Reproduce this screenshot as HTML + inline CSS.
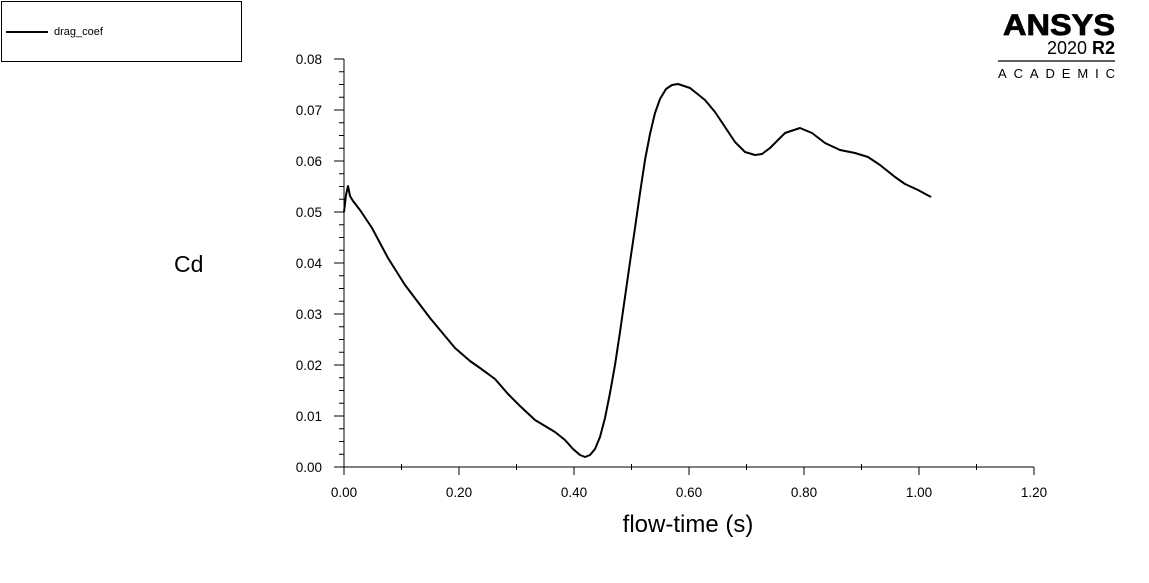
<!DOCTYPE html>
<html><head><style>
body{margin:0;background:#fff;width:1149px;height:583px;overflow:hidden}
svg{display:block}
text{font-family:"Liberation Sans",Arial,sans-serif;fill:#000}
</style></head><body>
<svg width="1149" height="583" viewBox="0 0 1149 583">
<rect x="1.5" y="1.5" width="240" height="60" fill="none" stroke="#000" stroke-width="1"/>
<line x1="6" y1="32" x2="48" y2="32" stroke="#000" stroke-width="2"/>
<text x="54" y="35" font-size="11">drag_coef</text>
<text x="1003" y="35" font-size="30" font-weight="bold" textLength="112" lengthAdjust="spacingAndGlyphs" stroke="#000" stroke-width="0.8">ANSYS</text>
<text x="1115" y="54" font-size="18" text-anchor="end">2020 <tspan font-weight="bold">R2</tspan></text>
<line x1="998" y1="61" x2="1115" y2="61" stroke="#000" stroke-width="1.2"/>
<text x="998" y="78" font-size="13" textLength="117" lengthAdjust="spacing">ACADEMIC</text>
<g stroke="#000" stroke-width="1" fill="none">
<line x1="344" y1="59" x2="344" y2="467"/>
<line x1="344" y1="467" x2="1034" y2="467"/>
<path d="M334 59H344M334 110H344M334 161H344M334 212H344M334 263H344M334 314H344M334 365H344M334 416H344M334 467H344"/>
<path d="M339 71.75H344M339 84.5H344M339 97.25H344M339 122.75H344M339 135.5H344M339 148.25H344M339 173.75H344M339 186.5H344M339 199.25H344M339 224.75H344M339 237.5H344M339 250.25H344M339 275.75H344M339 288.5H344M339 301.25H344M339 326.75H344M339 339.5H344M339 352.25H344M339 377.75H344M339 390.5H344M339 403.25H344M339 428.75H344M339 441.5H344M339 454.25H344"/>
<path d="M344 467V475M459 467V475M574 467V475M689 467V475M804 467V475M919 467V475M1034 467V475"/>
<path d="M401.5 464V470M516.5 464V470M631.5 464V470M746.5 464V470M861.5 464V470M976.5 464V470"/>
</g>
<g font-size="13.5" text-anchor="end">
<text x="322" y="64">0.08</text><text x="322" y="115">0.07</text><text x="322" y="166">0.06</text><text x="322" y="217">0.05</text><text x="322" y="268">0.04</text><text x="322" y="319">0.03</text><text x="322" y="370">0.02</text><text x="322" y="421">0.01</text><text x="322" y="472">0.00</text>
</g>
<g font-size="13.5" text-anchor="middle">
<text x="344" y="497">0.00</text><text x="459" y="497">0.20</text><text x="574" y="497">0.40</text><text x="689" y="497">0.60</text><text x="804" y="497">0.80</text><text x="919" y="497">1.00</text><text x="1034" y="497">1.20</text>
</g>
<text x="174" y="272" font-size="23">Cd</text>
<text x="688" y="532" font-size="24" text-anchor="middle">flow-time (s)</text>
<polyline fill="none" stroke="#000" stroke-width="2" stroke-linejoin="round" points="344,212 346,195 348,186 350,196 353,201 360,210 372,228 388,258 405,285 430,318 455,348 470,361 480,368 495,379 508,394 520,406 535,420 555,432 565,440 573,449 580,455 585,457 590,455 595,449 600,437 605,418 610,393 615,365 620,332 625,297 630,262 635,228 640,193 645,160 650,134 655,113 660,99 666,89 672,85 678,84 690,88 705,100 715,112 725,127 735,142 745,152 755,155 762,154 770,148 785,133 800,128 812,133 825,143 840,150 855,153 868,157 880,165 895,177 905,184 918,190 931,197"/>
</svg>
</body></html>
